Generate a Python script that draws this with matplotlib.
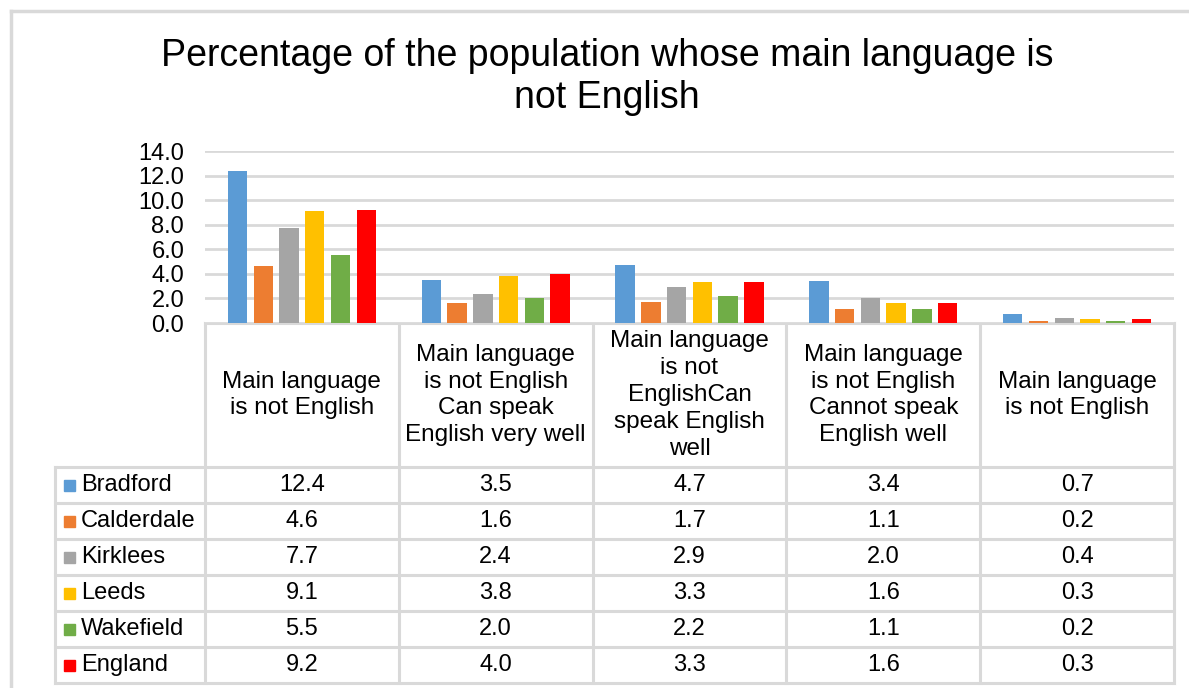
import numpy as np
import matplotlib.pyplot as plt

plt.rcParams['font.family'] = ['Liberation Sans', 'DejaVu Sans']

categories = [
    "Main language\nis not English",
    "Main language\nis not English\nCan speak\nEnglish very well",
    "Main language\nis not\nEnglishCan\nspeak English\nwell",
    "Main language\nis not English\nCannot speak\nEnglish well",
    "Main language\nis not English",
]
areas = ["Bradford", "Calderdale", "Kirklees", "Leeds", "Wakefield", "England"]
bradford = [12.4, 3.5, 4.7, 3.4, 0.7]
calderdale = [4.6, 1.6, 1.7, 1.1, 0.2]
kirklees = [7.7, 2.4, 2.9, 2.0, 0.4]
leeds = [9.1, 3.8, 3.3, 1.6, 0.3]
wakefield = [5.5, 2.0, 2.2, 1.1, 0.2]
england = [9.2, 4.0, 3.3, 1.6, 0.3]
series = [bradford, calderdale, kirklees, leeds, wakefield, england]
colors = ["#5B9BD5", "#ED7D31", "#A5A5A5", "#FFC000", "#70AD47", "#FF0000"]

W, H = 1189, 688
fig = plt.figure(figsize=(W / 100, H / 100), dpi=100, facecolor='w')

grid_c = '#D9D9D9'
fs = 17
left, right, top, bottom = 205, 1174, 151, 323
ax = fig.add_axes([left / W, 1 - bottom / H, (right - left) / W, (bottom - top) / H])

x = np.arange(len(categories))
pitch = 0.133
bw = 0.1
for i, (vals, c) in enumerate(zip(series, colors)):
    ax.bar(x + (i - 2.5) * pitch, vals, width=bw, color=c, zorder=3)

ax.set_xlim(-0.5, len(categories) - 0.5)
ax.set_ylim(0, 14)
ax.set_yticks(np.arange(0, 14.1, 2))
ax.set_yticklabels([f"{v:.1f}" for v in np.arange(0, 14.1, 2)], fontsize=fs)
ax.set_xticks([])
ax.tick_params(axis='y', length=0, pad=15)
ax.yaxis.grid(True, color=grid_c, lw=2, zorder=0)
for s in ax.spines.values():
    s.set_visible(False)

# overlay in pixel coordinates for title, table and border
ov = fig.add_axes([0, 0, 1, 1], zorder=-1)
ov.set_xlim(0, W)
ov.set_ylim(H, 0)
ov.axis('off')

ov.plot([11, W], [11, 11], color=grid_c, lw=2.5)
ov.plot([11, 11], [11, H], color=grid_c, lw=2.5)

ov.text(607, 77, "Percentage of the population whose main language is\nnot English",
        ha='center', va='center', fontsize=27, linespacing=1.2)

colw = (right - left) / len(categories)
edges = [left + colw * k for k in range(len(categories) + 1)]
hdr_bot = 467
rowh = 36
tab_left = 55
tab_bot = hdr_bot + rowh * len(areas)

lw_t = 2.2
# header
ov.plot([left, right], [bottom, bottom], color=grid_c, lw=lw_t)
for e in edges:
    ov.plot([e, e], [bottom, tab_bot], color=grid_c, lw=lw_t)
for k, cat in enumerate(categories):
    ov.text((edges[k] + edges[k + 1]) / 2, (bottom + hdr_bot) / 2, cat,
            ha='center', va='center', fontsize=17.5, linespacing=1.28)
# rows
for r in range(len(areas) + 1):
    y = hdr_bot + r * rowh
    ov.plot([tab_left, right], [y, y], color=grid_c, lw=lw_t)
ov.plot([tab_left, tab_left], [hdr_bot, tab_bot], color=grid_c, lw=lw_t)
for r, (name, vals, c) in enumerate(zip(areas, series, colors)):
    yc = hdr_bot + r * rowh + rowh / 2
    ov.add_patch(plt.Rectangle((64, yc - 5.5), 11, 11, color=c))
    ov.text(81, yc, name, ha='left', va='center', fontsize=fs)
    for k, v in enumerate(vals):
        ov.text((edges[k] + edges[k + 1]) / 2, yc, f"{v:.1f}",
                ha='center', va='center', fontsize=fs)

fig.savefig('out.png', dpi=100)
